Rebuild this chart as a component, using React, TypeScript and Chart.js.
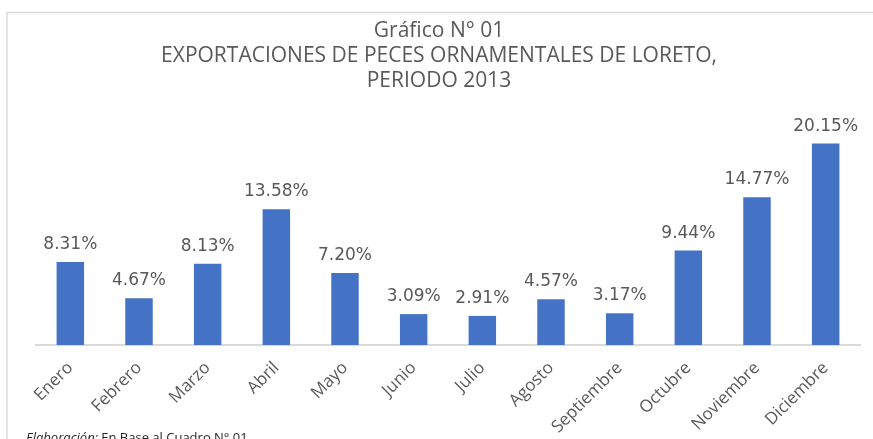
import React, { useEffect, useRef } from "react";
import { Chart, registerables } from "chart.js";

Chart.register(...registerables);

const months = ["Enero", "Febrero", "Marzo", "Abril", "Mayo", "Junio", "Julio", "Agosto", "Septiembre", "Octubre", "Noviembre", "Diciembre"];
const shares = [8.31, 4.67, 8.13, 13.58, 7.2, 3.09, 2.91, 4.57, 3.17, 9.44, 14.77, 20.15];
const titleLines = ["Gráfico N° 01", "EXPORTACIONES DE PECES ORNAMENTALES DE LORETO,", "PERIODO 2013"];
const footerItalic = "Elaboración:";
const footerText = " En Base al Cuadro N° 01";

const GRAY = "#595959";

const decorPlugin = {
  id: "decor",
  beforeDraw(chart: any) {
    const ctx = chart.ctx;
    ctx.save();
    ctx.fillStyle = "#ffffff";
    ctx.fillRect(0, 0, chart.width, chart.height);
    ctx.strokeStyle = "#d9d9d9";
    ctx.lineWidth = 1.5;
    ctx.strokeRect(7, 12.5, 900, 500);
    ctx.restore();
  },
  afterDraw(chart: any) {
    const ctx = chart.ctx;
    ctx.save();
    // title
    ctx.fillStyle = GRAY;
    ctx.textAlign = "center";
    ctx.textBaseline = "alphabetic";
    ctx.font = '21px "Open Sans", sans-serif';
    const ys = [37, 62, 87];
    titleLines.forEach((t, i) => ctx.fillText(t, 439, ys[i]));
    // data labels
    const meta = chart.getDatasetMeta(0);
    ctx.font = '17px "DejaVu Sans", sans-serif';
    ctx.fillStyle = GRAY;
    ctx.textAlign = "center";
    meta.data.forEach((bar: any, i: number) => {
      ctx.fillText(shares[i].toFixed(2) + "%", bar.x, bar.y - 13);
    });
    // footer
    ctx.textAlign = "left";
    ctx.fillStyle = "#262626";
    ctx.font = 'italic 13px "Open Sans", sans-serif';
    ctx.fillText(footerItalic, 26, 442);
    const w = ctx.measureText(footerItalic).width;
    ctx.font = '13px "Open Sans", sans-serif';
    ctx.fillText(footerText, 26 + w, 442);
    ctx.restore();
  },
};

export default function App() {
  const ref = useRef<HTMLCanvasElement | null>(null);
  useEffect(() => {
    if (!ref.current) return;
    const chart = new Chart(ref.current, {
      type: "bar",
      data: {
        labels: months,
        datasets: [
          {
            data: shares,
            backgroundColor: "#4472C4",
            barPercentage: 0.4,
            categoryPercentage: 1,
          },
        ],
      },
      options: {
        animation: false,
        responsive: false,
        maintainAspectRatio: false,
        layout: { padding: { left: 36, right: 13, top: 95, bottom: 0 } },
        plugins: { legend: { display: false }, title: { display: false }, tooltip: { enabled: false } },
        scales: {
          x: {
            grid: { display: false, drawTicks: false },
            border: { display: true, color: "#d9d9d9", width: 2 },
            ticks: {
              color: GRAY,
              font: { family: '"Open Sans", sans-serif', size: 17 },
              minRotation: 45,
              maxRotation: 45,
              padding: 13,
              autoSkip: false,
            },
            afterFit: (scale: any) => {
              scale.height = 94;
            },
          },
          y: { display: false, min: 0, max: 25 },
        },
      },
      plugins: [decorPlugin],
    });
    return () => chart.destroy();
  }, []);
  return (
    <div style={{ position: "absolute", left: 0, top: 0, width: 873, height: 439 }}>
      <canvas ref={ref} width={873} height={439} style={{ width: 873, height: 439, display: "block" }} />
    </div>
  );
}
